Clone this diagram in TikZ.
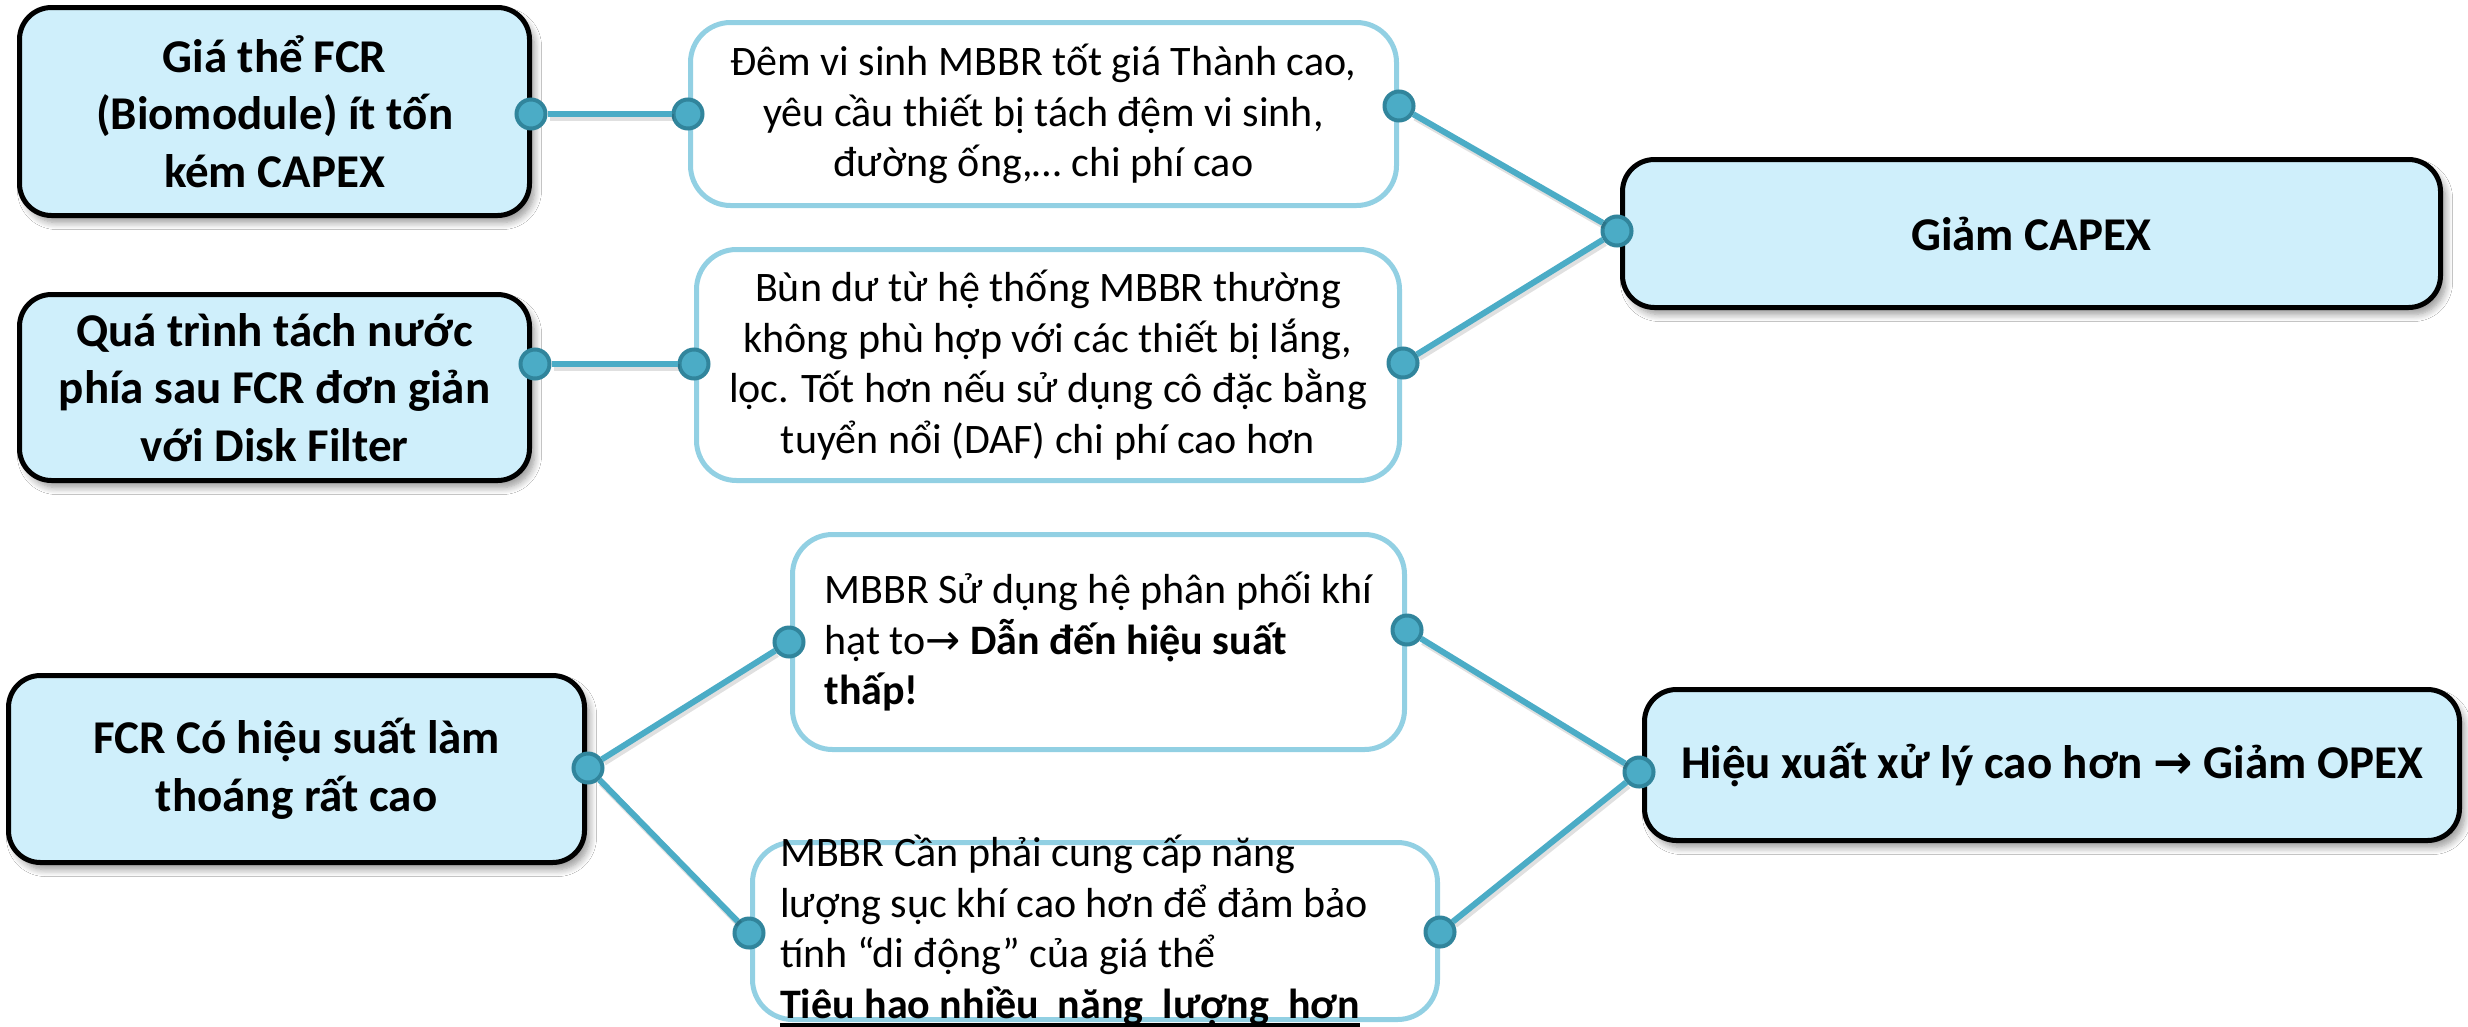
\documentclass[tikz,border=0pt]{standalone}
\usepackage{fontspec}
\setmainfont{Carlito}
\newfontfamily\arrowfont{DejaVu Sans}
\usetikzlibrary{shadows.blur}

\definecolor{boxfill}{HTML}{CFEFFB}
\definecolor{pale}{HTML}{92D0E3}
\definecolor{wire}{HTML}{4BACC6}
\definecolor{ring}{HTML}{31859C}

% arrow glyph taken from DejaVu Sans
\newcommand{\arw}{{\arrowfont →}}
% heavy underline for the bold closing line
\newcommand{\thickul}[1]{\setbox0=\hbox{#1}\rlap{\rule[-9pt]{\wd0}{4pt}}\box0}

\begin{document}
\begin{tikzpicture}[x=1pt,y=-1pt,
  darkbox/.style={draw=black, line width=5pt, fill=boxfill, rounded corners=32pt,
    align=center, inner sep=0pt,
    blur shadow={shadow xshift=5pt, shadow yshift=-7pt, shadow blur radius=7pt, shadow blur steps=8}},
  palebox/.style={draw=pale, line width=5pt, fill=white, rounded corners=40pt, inner sep=0pt},
  boldtxt/.style={font=\fontsize{47}{57.5}\selectfont\bfseries},
  plaintxt/.style={font=\fontsize{42}{50.5}\selectfont},
  wirestyle/.style={draw=wire, line width=6pt,
    preaction={draw=black, opacity=0.12, line width=7pt, transform canvas={shift={(2,3)}}}},
  dot/.style={circle, fill=wire, draw=ring, line width=4pt, minimum size=29pt, inner sep=0pt}
]
\useasboundingbox (0,0) rectangle (2468,1026);
\clip (0,0) rectangle (2468,1026);
\fill[white] (0,0) rectangle (2468,1026);

% left column
\node[darkbox, boldtxt, minimum width=510pt, minimum height=208pt] (boxA) at (274.5,111.5)
  {Giá thể FCR\\(Biomodule) ít tốn\\kém CAPEX};
\node[darkbox, boldtxt, minimum width=510pt, minimum height=186pt] (boxA2) at (274.5,387.5)
  {Quá trình tách nước\\phía sau FCR đơn giản\\với Disk Filter};
\node[darkbox, boldtxt, minimum width=576pt, minimum height=187pt] (boxD) at (296.5,769)
  {FCR Có hiệu suất làm\\thoáng rất cao};

% middle column
\node[palebox, plaintxt, align=center, minimum width=706pt, minimum height=183pt] (boxB1) at (1043.5,114)
  {Đêm vi sinh MBBR tốt giá Thành cao,\\yêu cầu thiết bị tách đệm vi sinh,\\đường ống,… chi phí cao};
\node[palebox, plaintxt, align=center, minimum width=703pt, minimum height=231pt] (boxB2) at (1048,365)
  {Bùn dư từ hệ thống MBBR thường\\không phù hợp với các thiết bị lắng,\\lọc. Tốt hơn nếu sử dụng cô đặc bằng\\tuyển nổi (DAF) chi phí cao hơn};
\node[palebox, plaintxt, align=left, minimum width=612pt, minimum height=215pt] (boxE1) at (1098.5,642)
  {MBBR Sử dụng hệ phân phối khí\\hạt to\arw{} \textbf{Dẫn đến hiệu suất}\\\textbf{thấp!}};
\node[palebox, minimum width=685pt, minimum height=177pt] (boxE2) at (1095,931) {};
\node[plaintxt, align=left, anchor=north west, inner sep=0pt] (textE2) at (780,835)
  {MBBR Cần phải cung cấp năng\\lượng sục khí cao hơn để đảm bảo\\tính “di động” của giá thể\\\textbf{\thickul{Tiêu hao nhiều\ \ năng\ \ lượng\ \ hơn}}};

% right column
\node[darkbox, boldtxt, minimum width=818pt, minimum height=148pt] (boxC) at (2031.5,233.5) {Giảm CAPEX};
\node[darkbox, boldtxt, minimum width=815pt, minimum height=151pt] (boxF) at (2052,765)
  {Hiệu xuất xử lý cao hơn \arw{} Giảm OPEX};

% connector ends
\node[dot] (dA)   at (531,114) {};
\node[dot] (dB1l) at (688,114) {};
\node[dot] (dA2)  at (535,364) {};
\node[dot] (dB2l) at (694,364) {};
\node[dot] (dB1r) at (1399,106) {};
\node[dot] (dB2r) at (1403,363) {};
\node[dot] (dC)   at (1617,231) {};
\node[dot] (dD)   at (588,768) {};
\node[dot] (dE1l) at (789,642) {};
\node[dot] (dE2l) at (749,933) {};
\node[dot] (dE1r) at (1407,630) {};
\node[dot] (dE2r) at (1440,932) {};
\node[dot] (dF)   at (1639,772) {};

% connectors
\draw[wirestyle] (dA) -- (dB1l);
\draw[wirestyle] (dA2) -- (dB2l);
\draw[wirestyle] (dB1r) -- (dC);
\draw[wirestyle] (dB2r) -- (dC);
\draw[wirestyle] (dD) -- (dE1l);
\draw[wirestyle] (dD) -- (dE2l);
\draw[wirestyle] (dE1r) -- (dF);
\draw[wirestyle] (dE2r) -- (dF);
\end{tikzpicture}
\end{document}
